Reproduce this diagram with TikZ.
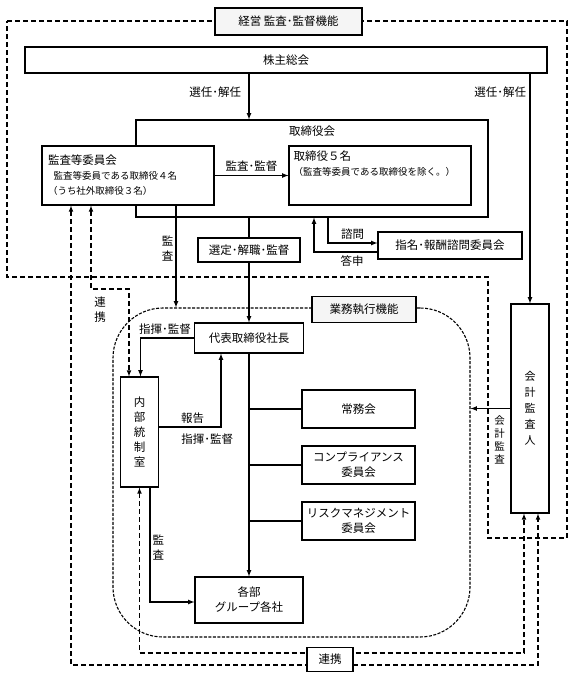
\documentclass[tikz,border=0pt]{standalone}
\usepackage{fontspec}
\setmainfont{Noto Sans CJK JP}
\usetikzlibrary{arrows}
\newcommand{\kfsmall}{\fontsize{9.5}{13}\selectfont}

\begin{document}
\begin{tikzpicture}[
		x=1pt,
		y=-1pt,
		font=\fontsize{11.5}{15}\selectfont,
		box/.style={
			draw,
			fill=white,
			line width=1.1pt,
			inner sep=2pt
		},
		head/.style={
			box,
			fill=gray!8,
			line width=1.4pt
		},
		link/.style={
			line width=1.2pt
		},
		dl/.style={
			dash pattern=on 5pt off 3pt,
			line width=1.1pt
		},
		fl/.style={
			dash pattern=on 3pt off 1.5pt,
			line width=1.1pt
		},
		vtext/.style={
			align=center,
			inner sep=2pt
		},
		>=latex
		]
		\useasboundingbox (0,0) rectangle (574,678);
		\draw[dl] (7,21) -- (567,21) -- (567,538) -- (488,538) -- (488,277) -- (7,277) -- cycle;
		\node[draw, fl, rounded corners=50pt, minimum width=357pt, minimum height=329pt, inner sep=0pt] (frame) at (291.5,472.5) {};
		\node[head, minimum width=147pt, minimum height=27pt] (keiei) at (288.5,21.5) {経営 監査･監督機能};
		\node[head, minimum width=104pt, minimum height=26pt] (gyomu) at (364,309.5) {業務執行機能};

		\node[box, minimum width=522pt, minimum height=26pt] (kabu) at (286,60) {株主総会};
		\node[box, fill=none, minimum width=352pt, minimum height=97pt] (bd) at (312,168.5) {};
		\node (bdt) at (312,131) {取締役会};
		\node[box, align=left, text width=160pt, inner sep=6pt, minimum height=59pt] (kansa) at (128,175.5)
			{監査等委員会\\{\kfsmall\hspace*{0.6em}監査等委員である取締役４名}\\{\kfsmall（うち社外取締役３名）}};
		\node[box, minimum width=182pt, minimum height=59pt] (dir5) at (380,175.5) {};
		\node[anchor=north west, align=left, inner sep=0pt] (dir5t) at ([xshift=5pt,yshift=-5pt]dir5.north west)
			{取締役５名\\{\kfsmall（監査等委員である取締役を除く。）}};
		\node[box, minimum width=102pt, minimum height=24pt] (sentei) at (249,250) {選定･解職･監督};
		\node[box, minimum width=144pt, minimum height=27pt] (shimei) at (450,245.5) {指名･報酬諮問委員会};

		\node[box, minimum width=109pt, minimum height=30pt] (pres) at (249,338) {代表取締役社長};
		\node[box, vtext, minimum width=38pt, minimum height=110pt] (naibu) at (139.5,432) {内\\部\\統\\制\\室};
		\node[box, align=center, minimum width=108pt, minimum height=46pt] (kakubu) at (249,600) {各部\\グループ各社};
		\node[box, vtext, font=\fontsize{11}{16}\selectfont, minimum width=38pt, minimum height=209pt] (kaikei) at (530,408.5) {会\\計\\監\\査\\人};
		\foreach \nm/\yy/\tx in {jomu/409/{常務会}, comp/465/{コンプライアンス\\委員会}, risk/521/{リスクマネジメント\\委員会}}
		{
			\node[box, align=center, minimum width=113pt, minimum height=38pt] (\nm) at (358.5,\yy) {\tx};
			\draw[link] (\nm.west) -- (\nm.west -| pres);
		}

		\draw[link,->] (kabu.south -| pres) -- node[pos=0.4, left=4pt] {選任･解任} (bd.north -| pres);
		\draw[link,->] (kabu.south -| kaikei) -- node[pos=0.08, left] {選任･解任} (kaikei.north);
		\draw[link,->] (kansa) -- node[above] {監査･監督} (dir5);
		\coordinate (ka) at ([xshift=48pt]kansa.south);
		\draw[link,->] (ka) -- node[pos=0.42, vtext, left] {監\\査} (ka |- frame.north);
		\draw[link] (bd.south -| sentei) -- (sentei.north);
		\draw[link,->] (sentei.south) -- (pres.north);
		\draw[link,->] ([xshift=16pt]bd.south) |- node[pos=0.75, above] {諮問} ([yshift=2.5pt]shimei.west);
		\draw[link,->] ([yshift=-6.5pt]shimei.west) -| node[pos=0.2, below] {答申} ([xshift=2pt]bd.south);
		\draw[link,->] (pres.west) -| node[pos=0.27, above] {指揮･監督} ([xshift=1pt]naibu.north);
		\draw[link,->] ([yshift=5pt]naibu.east) -| node[pos=0.27, above] {報告} ([xshift=-28pt]pres.south);
		\draw[link,->] (pres.south) -- node[pos=0.385, left=12pt] {指揮･監督} (kakubu.north);
		\draw[link,->] ([xshift=10.5pt]naibu.south) |- node[pos=0.26, right, vtext] {監\\査} ([yshift=-2pt]kakubu.west);
		\draw[link,->] (kaikei.west) -- node[pos=0.27, below, vtext, yshift=-5pt, font=\fontsize{10.5}{13}\selectfont] {会\\計\\監\\査} (kaikei.west -| frame.east);

		\coordinate (rk1) at (110,289);
		\coordinate (rk2) at (330,665);
		\coordinate (rk3) at (330,653);
		\draw[dl,<->] ([xshift=-37pt]kansa.south) |- (rk1) -| ([xshift=-10.5pt]naibu.north);
		\node[vtext] (renkeiv) at (100,310) {連\\携};
		\draw[dl,<->] ([xshift=-57pt]kansa.south) |- (rk2) -| ([xshift=8pt]kaikei.south);
		\draw[dl,<->] (naibu.south) |- (rk3) -| ([xshift=-6pt]kaikei.south);
		\node[box, minimum width=46pt, minimum height=24pt] (renkei) at (330,659.5) {連携};
\end{tikzpicture}
\end{document}
